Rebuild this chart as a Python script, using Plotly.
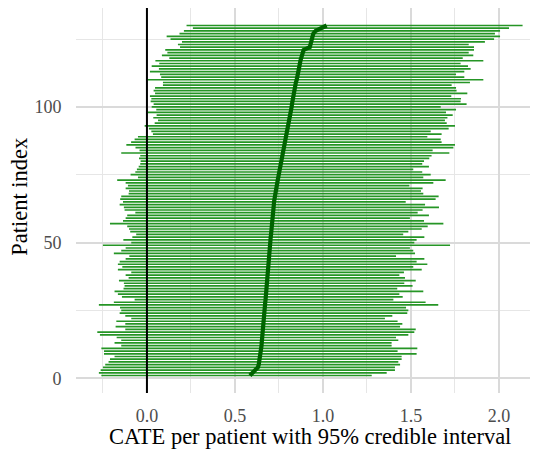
import plotly.graph_objects as go

# Patient index (sorted by CATE)
patient_index = list(range(1, 131))

# Posterior mean CATE per patient (sorted)
cate = [
    0.585, 0.600, 0.622, 0.630, 0.635, 0.638, 0.640, 0.642, 0.645, 0.647,
    0.649, 0.651, 0.652, 0.653, 0.655, 0.656, 0.657, 0.658, 0.659, 0.661,
    0.662, 0.664, 0.665, 0.666, 0.668, 0.670, 0.671, 0.672, 0.674, 0.675,
    0.677, 0.678, 0.680, 0.681, 0.683, 0.684, 0.686, 0.687, 0.689, 0.690,
    0.691, 0.692, 0.693, 0.694, 0.695, 0.696, 0.697, 0.698, 0.699, 0.700,
    0.701, 0.703, 0.705, 0.707, 0.709, 0.711, 0.713, 0.714, 0.715, 0.716,
    0.717, 0.718, 0.719, 0.721, 0.722, 0.724, 0.727, 0.730, 0.732, 0.735,
    0.737, 0.740, 0.743, 0.746, 0.749, 0.753, 0.756, 0.759, 0.762, 0.766,
    0.769, 0.772, 0.775, 0.778, 0.781, 0.785, 0.788, 0.791, 0.794, 0.797,
    0.800, 0.803, 0.806, 0.809, 0.812, 0.814, 0.816, 0.818, 0.820, 0.822,
    0.824, 0.826, 0.829, 0.831, 0.834, 0.837, 0.840, 0.842, 0.846, 0.851,
    0.855, 0.858, 0.861, 0.864, 0.866, 0.869, 0.872, 0.876, 0.880, 0.885,
    0.890, 0.925, 0.928, 0.931, 0.935, 0.940, 0.945, 0.958, 0.990, 1.021,
]

# Lower bound of 95% credible interval
lower = [
    -0.259, -0.273, -0.263, -0.250, -0.237, -0.218, -0.210, -0.184, -0.244, -0.244,
    -0.259, -0.146, -0.184, -0.146, -0.172, -0.267, -0.282, -0.123, -0.178, -0.123,
    -0.174, -0.089, -0.123, -0.155, -0.146, -0.153, -0.273, -0.188, -0.070, -0.142,
    -0.165, -0.184, -0.133, -0.127, -0.131, -0.159, -0.104, -0.121, -0.089, -0.165,
    -0.140, -0.165, -0.155, -0.121, -0.100, -0.188, -0.146, -0.121, -0.250, -0.089,
    -0.134, -0.083, -0.061, -0.095, -0.102, -0.112, -0.210, -0.136, -0.121, -0.112,
    -0.066, -0.127, -0.131, -0.155, -0.136, -0.152, -0.146, -0.104, -0.102, -0.121,
    -0.108, -0.121, -0.169, -0.051, -0.093, -0.066, -0.057, -0.047, -0.038, -0.036,
    -0.045, -0.038, -0.146, -0.042, -0.065, -0.117, -0.090, -0.070, -0.051, 0.034,
    0.025, 0.011, -0.013, 0.044, 0.063, 0.036, 0.055, 0.006, 0.053, 0.027,
    0.038, 0.021, 0.025, 0.017, 0.046, 0.038, 0.046, 0.091, 0.091, 0.006,
    0.081, 0.074, 0.017, 0.068, 0.027, 0.070, 0.048, 0.127, 0.085, 0.116,
    0.104, 0.188, 0.176, 0.199, 0.134, 0.112, 0.185, 0.210, 0.261, 0.225,
]

# Upper bound of 95% credible interval
upper = [
    1.277, 1.362, 1.409, 1.409, 1.438, 1.428, 1.447, 1.447, 1.532, 1.424,
    1.536, 1.390, 1.390, 1.428, 1.415, 1.485, 1.519, 1.527, 1.438, 1.451,
    1.424, 1.352, 1.394, 1.479, 1.485, 1.472, 1.655, 1.583, 1.400, 1.453,
    1.434, 1.570, 1.422, 1.509, 1.462, 1.527, 1.466, 1.434, 1.460, 1.561,
    1.513, 1.593, 1.532, 1.576, 1.415, 1.523, 1.513, 1.494, 1.722, 1.519,
    1.532, 1.576, 1.456, 1.485, 1.561, 1.595, 1.684, 1.574, 1.494, 1.602,
    1.538, 1.566, 1.659, 1.580, 1.470, 1.640, 1.657, 1.570, 1.557, 1.566,
    1.491, 1.627, 1.697, 1.570, 1.612, 1.564, 1.513, 1.602, 1.564, 1.574,
    1.604, 1.617, 1.718, 1.623, 1.741, 1.750, 1.674, 1.669, 1.593, 1.674,
    1.612, 1.714, 1.750, 1.703, 1.693, 1.707, 1.737, 1.699, 1.756, 1.669,
    1.816, 1.782, 1.784, 1.729, 1.820, 1.759, 1.756, 1.731, 1.835, 1.911,
    1.803, 1.756, 1.803, 1.839, 1.824, 1.782, 1.911, 1.794, 1.854, 1.828,
    1.858, 1.858, 1.828, 1.920, 1.972, 2.006, 1.977, 2.006, 2.057, 2.134,
]

x_tick_vals = [0.0, 0.5, 1.0, 1.5, 2.0]
x_tick_text = ["0.0", "0.5", "1.0", "1.5", "2.0"]
x_minor_vals = [-0.25, 0.25, 0.75, 1.25, 1.75]
y_tick_vals = [0, 50, 100]
y_tick_text = ["0", "50", "100"]
y_minor_vals = [25, 75, 125]
REF_X = 0.0
X_TITLE = "CATE per patient with 95% credible interval"
Y_TITLE = "Patient index"

FONT = "Liberation Serif, Times New Roman, serif"

# Build the interval segments
seg_x, seg_y = [], []
for i, lo, hi in zip(patient_index, lower, upper):
    seg_x += [lo, hi, None]
    seg_y += [i, i, None]

fig = go.Figure()
fig.add_trace(go.Scatter(
    x=seg_x, y=seg_y, mode="lines",
    line=dict(color="#259525", width=1.7),
    hoverinfo="skip", showlegend=False,
))
fig.add_trace(go.Scatter(
    x=cate, y=patient_index, mode="lines",
    line=dict(color="#006400", width=4.2),
    showlegend=False,
))

fig.add_shape(type="line", x0=REF_X, x1=REF_X, xref="x", y0=0, y1=1, yref="paper",
              line=dict(color="black", width=2), layer="above")

grid_major = "#DADADA"
grid_minor = "#E6E6E6"

fig.update_xaxes(
    range=[-0.403, 2.2216], automargin=False,
    tickvals=x_tick_vals, ticktext=x_tick_text,
    showgrid=True, gridcolor=grid_major, gridwidth=1.6,
    minor=dict(tickvals=x_minor_vals, showgrid=True, gridcolor=grid_minor, gridwidth=1),
    zeroline=False, showline=False,
    ticks="outside", ticklen=6, tickcolor="rgba(0,0,0,0)",
    tickfont=dict(family=FONT, size=18, color="#4D4D4D"),
)
fig.update_yaxes(
    range=[-5.45, 136.45], automargin=False,
    tickvals=y_tick_vals, ticktext=y_tick_text,
    showgrid=True, gridcolor=grid_major, gridwidth=1.6,
    minor=dict(tickvals=y_minor_vals, showgrid=True, gridcolor=grid_minor, gridwidth=1),
    zeroline=False, showline=False,
    ticks="outside", ticklen=10, tickcolor="rgba(0,0,0,0)",
    tickfont=dict(family=FONT, size=18, color="#4D4D4D"),
)

fig.add_annotation(text=X_TITLE, xref="paper", yref="paper", x=0.506, y=-0.114,
                   xanchor="center", yanchor="middle", showarrow=False,
                   font=dict(family=FONT, size=22.5, color="black"))
fig.add_annotation(text=Y_TITLE, xref="paper", yref="paper", x=-0.123, y=0.51,
                   xanchor="center", yanchor="middle", showarrow=False, textangle=-90,
                   font=dict(family=FONT, size=22.5, color="black"))

# The page body adds an 8px offset, so the figure is sized to fill the rest.
fig.update_layout(
    width=530, height=442,
    margin=dict(l=68, r=0, t=0, b=57),
    plot_bgcolor="white", paper_bgcolor="white",
    showlegend=False,
)

fig.write_html("out.html")
